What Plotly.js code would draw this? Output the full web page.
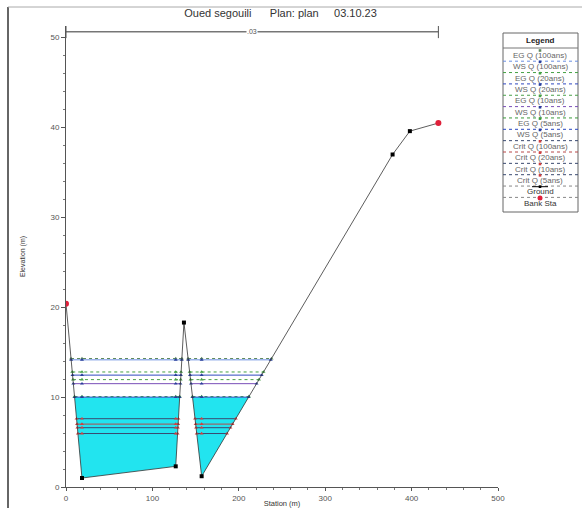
<!DOCTYPE html>
<html>
<head>
<meta charset="utf-8">
<script src="https://cdn.plot.ly/plotly-3.0.1.min.js"></script>
<style>html,body{margin:0;padding:0;background:#fff;}#chart{width:582px;height:508px;}</style>
</head>
<body>
<div id="chart"></div>
<script>
// ---- data ----
const groundStation = [0, 18.5, 127, 136.5, 157, 378, 398, 431];
const groundElev    = [20.4, 1.0, 2.3, 18.3, 1.2, 37.0, 39.6, 40.5];
const bankStation   = [0, 431];
const bankElev      = [20.4, 40.5];
const profileNames  = ['EG Q (100ans)','WS Q (100ans)','EG Q (20ans)','WS Q (20ans)','EG Q (10ans)','WS Q (10ans)','EG Q (5ans)','WS Q (5ans)','Crit Q (100ans)','Crit Q (20ans)','Crit Q (10ans)','Crit Q (5ans)'];
const profileElev   = [14.3, 14.15, 12.8, 12.45, 11.95, 11.5, 10.06, 10.0, 7.6, 7.0, 6.6, 5.95];
const manningN      = '.03';
const titleText     = 'Oued segouili\u00a0\u00a0\u00a0\u00a0\u00a0\u00a0Plan: plan\u00a0\u00a0\u00a0\u00a0\u00a003.10.23';
const xTickVals = [0,100,200,300,400,500];
const yTickVals = [0,10,20,30,40,50];

// ---- styles ----
const profileStyle = [
  {color:'#5e8a5e', dash:'dot',   mcolor:'#5e8a5e'},
  {color:'#6a8fe0', dash:'solid', mcolor:'#2a3f9a'},
  {color:'#44a044', dash:'dot',   mcolor:'#44a044'},
  {color:'#3048c0', dash:'solid', mcolor:'#2a3f9a'},
  {color:'#4aa04a', dash:'dot',   mcolor:'#4aa04a'},
  {color:'#7a4fb8', dash:'solid', mcolor:'#2a3f9a'},
  {color:'#3a9a3a', dash:'dot',   mcolor:'#3a9a3a'},
  {color:'#2a48c0', dash:'solid', mcolor:'#2a3f9a'},
  {color:'#3a4a70', dash:'solid', mcolor:'#d04040'},
  {color:'#b84848', dash:'solid', mcolor:'#d04040'},
  {color:'#3a4a70', dash:'solid', mcolor:'#d04040'},
  {color:'#3a4a70', dash:'solid', mcolor:'#d04040'}
];
const fillIndex = 7;

// wet segments of a water level over the ground
function wetSegments(level){
  const segs = [];
  let cur = null;
  for (let i=0;i<groundStation.length-1;i++){
    const x0=groundStation[i], y0=groundElev[i], x1=groundStation[i+1], y1=groundElev[i+1];
    if (y0>=level && y1<level){
      const xc = x0 + (level-y0)*(x1-x0)/(y1-y0);
      cur = {xs:[xc], ys:[level]};
    }
    if (cur && y1<level){ cur.xs.push(x1); cur.ys.push(y1); }
    if (cur && y0<level && y1>=level){
      const xc = x0 + (level-y0)*(x1-x0)/(y1-y0);
      cur.xs.push(xc); cur.ys.push(level);
      segs.push(cur); cur=null;
    }
  }
  return segs;
}

const traces = [];
// fill
wetSegments(profileElev[fillIndex]).forEach(s=>{
  traces.push({x:s.xs.concat([s.xs[0]]), y:s.ys.concat([s.ys[0]]), type:'scatter', mode:'lines',
    fill:'toself', fillcolor:'#22e4ef', line:{width:0}, hoverinfo:'skip', showlegend:false});
});
// profile lines
profileElev.forEach((lv,k)=>{
  const st = profileStyle[k];
  let xs=[], ys=[];
  wetSegments(lv).forEach(s=>{
    xs = xs.concat(s.xs, [null]);
    ys = ys.concat(s.xs.map(()=>lv), [null]);
  });
  traces.push({x:xs, y:ys, type:'scatter', mode:'lines+markers', name:profileNames[k],
    line:{color:st.color, width:1, dash:st.dash}, connectgaps:false,
    marker:{color:st.mcolor, size:3.5, symbol:'triangle-up'}, showlegend:false});
});
// ground
traces.push({x:groundStation, y:groundElev, type:'scatter', mode:'lines+markers', name:'Ground',
  line:{color:'#333', width:0.8}, marker:{color:'#000', size:4, symbol:'square'}, showlegend:false});
// bank stations
traces.push({x:bankStation, y:bankElev, type:'scatter', mode:'markers', name:'Bank Sta',
  marker:{color:'#e0203a', size:6, symbol:'circle'}, showlegend:false});

// ---- layout helpers (pixel -> paper) ----
const L=66, R=498, T=26, B=487;
const px = v => (v-L)/(R-L);
const py = v => (B-v)/(B-T);

const shapes = [];
const annotations = [];
// frame
shapes.push({type:'line', xref:'paper', yref:'paper', x0:px(8), x1:px(8), y0:py(508), y1:py(7), line:{color:'#666', width:2}});
shapes.push({type:'line', xref:'paper', yref:'paper', x0:px(8), x1:px(582), y0:py(7), y1:py(7), line:{color:'#aaa', width:1}});
// manning n line
const nY = 50.65;
shapes.push({type:'line', xref:'x', yref:'y', x0:bankStation[0], x1:bankStation[1], y0:nY, y1:nY, line:{color:'#333', width:1}});
bankStation.forEach(b=>{
  shapes.push({type:'line', xref:'x', yref:'y', x0:b, x1:b, y0:nY-0.7, y1:nY+0.7, line:{color:'#555', width:1}});
});
annotations.push({xref:'x', yref:'y', x:(bankStation[0]+bankStation[1])/2, y:nY, text:manningN, showarrow:false,
  xanchor:'center', yanchor:'middle',
  font:{family:'Liberation Sans, Arial', size:7, color:'#555'}, bgcolor:'#fff', borderpad:0});

// legend box
const lgL=503, lgR=578, lgTop=33, lgBot=212, lgC=540;
shapes.push({type:'rect', xref:'paper', yref:'paper', x0:px(lgL), x1:px(lgR), y0:py(lgBot), y1:py(lgTop), line:{color:'#666', width:1}, fillcolor:'#fff', layer:'below'});
annotations.push({xref:'paper', yref:'paper', x:px(lgC), y:py(41), text:'<b>Legend</b>', showarrow:false,
  xanchor:'center', yanchor:'middle',
  font:{family:'Liberation Sans, Arial', size:8, color:'#222'}});
shapes.push({type:'line', xref:'paper', yref:'paper', x0:px(lgL), x1:px(lgR), y0:py(48), y1:py(48), line:{color:'#777', width:1}});
const legendNames = profileNames.concat(['Ground','Bank Sta']);
const legendMark = profileStyle.map(s=>s.mcolor).concat(['#000','#e0203a']);
legendNames.forEach((nm,i)=>{
  const ty = 55.5 + i*11.35;
  annotations.push({xref:'paper', yref:'paper', x:px(lgC), y:py(ty), text:nm, showarrow:false,
    xanchor:'center', yanchor:'middle',
    font:{family:'Liberation Sans, Arial', size:8, color: i>=12 ? '#333' : '#666'}});
  // symbol above text
  const sz = i===13 ? 2.5 : 1.3;
  shapes.push({type: i===13?'circle':'rect', xref:'paper', yref:'paper', x0:px(lgC-sz), x1:px(lgC+sz), y0:py(ty-5-sz), y1:py(ty-5+sz),
    line:{width:0}, fillcolor:legendMark[i]});
  if (i===12){
    shapes.push({type:'line', xref:'paper', yref:'paper', x0:px(lgC-8), x1:px(lgC+8), y0:py(ty-5), y1:py(ty-5), line:{color:'#000', width:1}});
  }
  if (i<13){
    const sy = ty + 5.7;
    shapes.push({type:'line', xref:'paper', yref:'paper', x0:px(lgL), x1:px(lgR), y0:py(sy), y1:py(sy),
      line:{color: i<11 ? profileStyle[i+1].color : '#888', width:1, dash:'dot'}});
  }
});

const axFont = {family:'Liberation Sans, Arial', size:8, color:'#555'};
const layout = {
  width:582, height:508,
  margin:{l:L, r:582-R, t:T, b:508-B, pad:0},
  paper_bgcolor:'#fff', plot_bgcolor:'#fff',
  title:{text:titleText, x:0.482, xanchor:'center', y:1-13/508, yanchor:'middle', yref:'container',
    font:{family:'Liberation Sans, Arial', size:11, color:'#333'}},
  xaxis:{range:[0,500], tickvals:xTickVals, ticks:'outside', ticklen:3, tickcolor:'#555',
    showgrid:false, zeroline:false, showline:true, linecolor:'#555', linewidth:1, tickfont:axFont,
    minor:{dtick:20, ticks:'outside', ticklen:2, tickcolor:'#777'},
    title:{text:'Station (m)', font:{family:'Liberation Sans, Arial', size:7.5, color:'#333'}, standoff:2}, automargin:false},
  yaxis:{range:[0,51.3], tickvals:yTickVals, ticks:'outside', ticklen:4, tickcolor:'#555',
    showgrid:false, zeroline:false, showline:true, linecolor:'#555', linewidth:1, tickfont:axFont,
    minor:{dtick:2, ticks:'outside', ticklen:2, tickcolor:'#777'},
    title:{text:'Elevation (m)', font:{family:'Liberation Sans, Arial', size:7, color:'#333'}, standoff:24}, automargin:false},
  showlegend:false,
  shapes:shapes, annotations:annotations
};
Plotly.newPlot('chart', traces, layout, {staticPlot:true, displayModeBar:false});
</script>
</body>
</html>
